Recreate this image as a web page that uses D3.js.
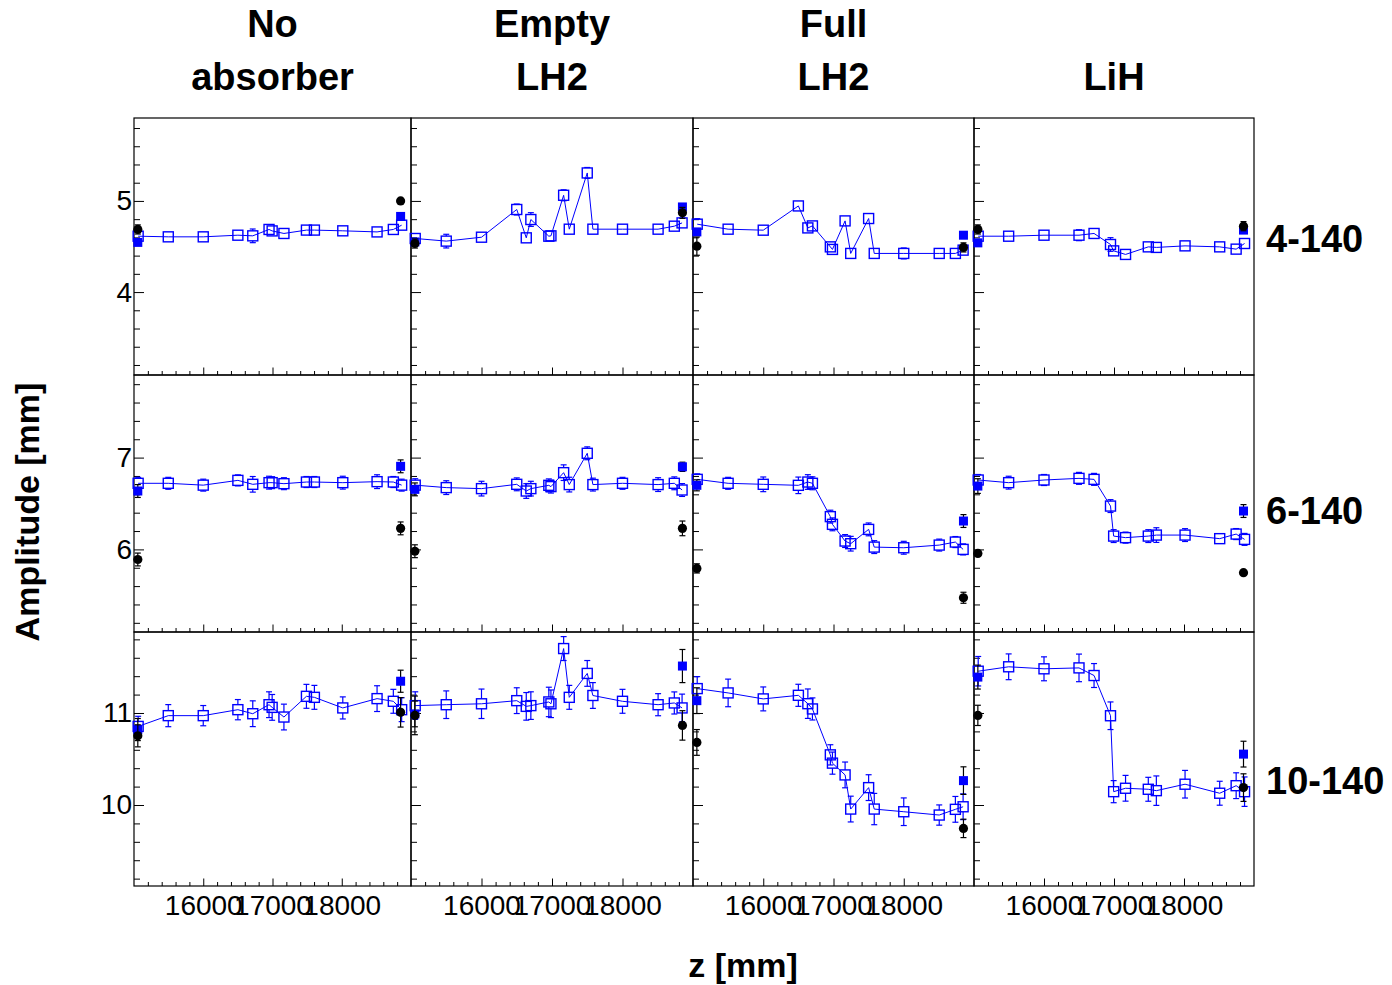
<!DOCTYPE html>
<html><head><meta charset="utf-8">
<script src="https://cdn.jsdelivr.net/npm/d3@7"></script>
<style>
body{margin:0;background:#fff;}
text{font-family:"Liberation Sans",Arial,Helvetica,sans-serif;}
</style>
</head><body>
<svg id="chart" width="1392" height="985"></svg>
<script>
// ---------------- data ----------------
const columnTitles = [["No","absorber"],["Empty","LH2"],["Full","LH2"],["LiH"]];
const rowLabels = ["4-140","6-140","10-140"];
const xTickValues = [16000,17000,18000];
const xRange = [15000,19000];
const yRanges = [[3.09,5.91],[5.1,7.9],[9.12,11.88]];
const yTickValues = [[4,5],[6,7],[10,11]];

const zNoAbs = [15060,15495,16000,16500,16715,16950,16995,17165,17490,17605,18015,18510,18745,18865];
const zLH2   = [15060,15500,16000,16500,16635,16700,16955,16985,17165,17245,17500,17580,18000,18505,18735,18845];
const zEdge  = [15055,18850];

// row 1 (4-140)
const r1NoAbsorber = [4.613,4.606,4.606,4.624,4.617,4.687,4.671,4.643,4.68,4.68,4.672,4.66,4.687,4.734];
const r1EmptyLH2   = [4.588,4.559,4.602,4.906,4.595,4.796,4.613,4.617,5.062,4.69,5.307,4.69,4.69,4.69,4.723,4.759];
const r1FullLH2    = [4.745,4.69,4.679,4.945,4.704,4.726,4.496,4.468,4.781,4.424,4.807,4.424,4.424,4.424,4.424,4.46];
const r1LiH        = [4.613,4.613,4.624,4.624,4.643,4.522,4.452,4.413,4.496,4.49,4.507,4.496,4.471,4.533];
const e1NoAbsorber = [0.04,0.04,0.04,0.05,0.075,0.05,0.05,0.05,0.04,0.04,0.05,0.04,0.05,0.05];
const e1EmptyLH2   = [0.05,0.075,0.05,0.06,0.05,0.075,0.05,0.05,0.06,0.05,0.06,0.04,0.04,0.04,0.05,0.05];
const e1FullLH2    = [0.06,0.05,0.04,0.05,0.05,0.05,0.05,0.05,0.05,0.05,0.05,0.05,0.06,0.04,0.04,0.05];
const e1LiH        = [0.05,0.05,0.05,0.06,0.05,0.075,0.05,0.05,0.05,0.05,0.05,0.05,0.05,0.05];
const sqEdgeR1      = [[4.545,4.83],[4.55,4.934],[4.66,4.624],[4.54,4.68]];
const sqEdgeErrR1   = [[0.03,0.03],[0.03,0.03],[0.03,0.03],[0.03,0.03]];
const circEdgeR1    = [[4.687,5.0],[4.533,4.869],[4.504,4.49],[4.687,4.723]];
const circEdgeErrR1 = [[0.05,0.03],[0.05,0.06],[0.1,0.05],[0.05,0.05]];

// row 2 (6-140)
const r2NoAbsorber = [6.72,6.72,6.70,6.752,6.709,6.727,6.727,6.716,6.734,6.734,6.727,6.738,6.734,6.70];
const r2EmptyLH2   = [6.70,6.673,6.662,6.709,6.636,6.662,6.698,6.684,6.836,6.706,7.047,6.706,6.72,6.706,6.72,6.647];
const r2FullLH2    = [6.763,6.72,6.709,6.698,6.734,6.72,6.357,6.273,6.091,6.062,6.218,6.025,6.018,6.047,6.08,6.0];
const r2LiH        = [6.756,6.727,6.756,6.774,6.763,6.472,6.145,6.128,6.145,6.156,6.156,6.117,6.167,6.109];
const e2NoAbsorber = [0.065,0.065,0.065,0.06,0.085,0.07,0.065,0.065,0.06,0.06,0.07,0.075,0.06,0.065];
const e2EmptyLH2   = [0.07,0.075,0.08,0.07,0.08,0.08,0.07,0.07,0.085,0.08,0.07,0.07,0.065,0.075,0.07,0.07];
const e2FullLH2    = [0.06,0.065,0.08,0.09,0.08,0.07,0.07,0.07,0.07,0.08,0.07,0.07,0.07,0.065,0.06,0.06];
const e2LiH        = [0.06,0.07,0.06,0.065,0.065,0.07,0.07,0.06,0.07,0.08,0.07,0.05,0.06,0.065];
const sqEdgeR2      = [[6.636,6.905],[6.654,6.90],[6.698,6.309],[6.69,6.418]];
const sqEdgeErrR2   = [[0.07,0.07],[0.07,0.05],[0.06,0.07],[0.08,0.07]];
const circEdgeR2    = [[5.89,6.229],[5.98,6.229],[5.793,5.473],[5.956,5.746]];
const circEdgeErrR2 = [[0.07,0.07],[0.07,0.08],[0.05,0.06],[0.04,0.04]];

// row 3 (10-140)
const r3NoAbsorber = [10.854,10.971,10.971,11.036,10.992,11.09,11.061,10.956,11.181,11.17,11.055,11.156,11.127,11.036];
const r3EmptyLH2   = [11.08,11.09,11.10,11.134,11.072,11.08,11.12,11.10,11.70,11.17,11.43,11.19,11.127,11.09,11.109,11.055];
const r3FullLH2    = [11.265,11.218,11.153,11.192,11.101,11.044,10.545,10.455,10.327,9.956,10.189,9.956,9.927,9.891,9.953,9.981];
const r3LiH        = [11.454,11.502,11.48,11.49,11.407,10.97,10.145,10.182,10.171,10.156,10.226,10.128,10.21,10.145];
const e3NoAbsorber = [0.11,0.12,0.11,0.11,0.14,0.14,0.14,0.14,0.13,0.13,0.12,0.14,0.13,0.13];
const e3EmptyLH2   = [0.15,0.15,0.16,0.14,0.15,0.15,0.16,0.15,0.13,0.13,0.14,0.14,0.13,0.12,0.12,0.15];
const e3FullLH2    = [0.13,0.15,0.13,0.12,0.16,0.12,0.11,0.12,0.14,0.14,0.14,0.17,0.15,0.11,0.14,0.14];
const e3LiH        = [0.16,0.14,0.13,0.15,0.13,0.15,0.12,0.14,0.13,0.16,0.15,0.13,0.14,0.16];
const sqEdgeR3      = [[10.82,11.345],[10.99,11.51],[11.134,10.265],[11.39,10.553]];
const sqEdgeErrR3   = [[0.12,0.12],[0.14,0.18],[0.14,0.15],[0.13,0.14]];
const circEdgeR3    = [[10.752,11.007],[10.974,10.865],[10.68,9.746],[10.974,10.189]];
const circEdgeErrR3 = [[0.12,0.16],[0.21,0.16],[0.14,0.1],[0.11,0.15]];

// ---------------- assembly ----------------
const colZ = [zNoAbs, zLH2, zLH2, zNoAbs];
const rowsData = [
  {vals:[r1NoAbsorber,r1EmptyLH2,r1FullLH2,r1LiH], errs:[e1NoAbsorber,e1EmptyLH2,e1FullLH2,e1LiH],
   sq:sqEdgeR1, sqE:sqEdgeErrR1, ci:circEdgeR1, ciE:circEdgeErrR1},
  {vals:[r2NoAbsorber,r2EmptyLH2,r2FullLH2,r2LiH], errs:[e2NoAbsorber,e2EmptyLH2,e2FullLH2,e2LiH],
   sq:sqEdgeR2, sqE:sqEdgeErrR2, ci:circEdgeR2, ciE:circEdgeErrR2},
  {vals:[r3NoAbsorber,r3EmptyLH2,r3FullLH2,r3LiH], errs:[e3NoAbsorber,e3EmptyLH2,e3FullLH2,e3LiH],
   sq:sqEdgeR3, sqE:sqEdgeErrR3, ci:circEdgeR3, ciE:circEdgeErrR3}
];

// ---------------- layout ----------------
const colEdges = [134, 411, 693, 974, 1254];
const rowEdges = [118, 375, 632, 886];
const BLUE = "#0000ff";
const svg = d3.select("#chart");

function errBar(g, x, yc, yTop, yBot, half, color){
  const cap = 3;
  if (yTop < yc - half) {
    g.append("line").attr("x1",x).attr("x2",x).attr("y1",yTop).attr("y2",yc-half).attr("stroke",color).attr("stroke-width",1.2);
    g.append("line").attr("x1",x-cap).attr("x2",x+cap).attr("y1",yTop).attr("y2",yTop).attr("stroke",color).attr("stroke-width",1.2);
  }
  if (yBot > yc + half) {
    g.append("line").attr("x1",x).attr("x2",x).attr("y1",yc+half).attr("y2",yBot).attr("stroke",color).attr("stroke-width",1.2);
    g.append("line").attr("x1",x-cap).attr("x2",x+cap).attr("y1",yBot).attr("y2",yBot).attr("stroke",color).attr("stroke-width",1.2);
  }
}

for (let r = 0; r < 3; r++) {
  const y = d3.scaleLinear().domain(yRanges[r]).range([rowEdges[r+1], rowEdges[r]]);
  const rd = rowsData[r];
  for (let c = 0; c < 4; c++) {
    const x = d3.scaleLinear().domain(xRange).range([colEdges[c], colEdges[c+1]]);
    const g = svg.append("g");

    // minor x ticks
    const minorX = d3.range(15200, 19000, 200).filter(v => !xTickValues.includes(v));
    g.append("g").attr("transform",`translate(0,${rowEdges[r+1]})`)
      .call(d3.axisBottom(x).tickValues(minorX).tickSize(-4).tickFormat(""))
      .call(s => s.select(".domain").remove());
    const xa = g.append("g").attr("transform",`translate(0,${rowEdges[r+1]})`)
      .call(d3.axisBottom(x).tickValues(xTickValues).tickSize(-7.5).tickPadding(9)
        .tickFormat(r === 2 ? d3.format("d") : ""))
      .call(s => s.select(".domain").remove());
    xa.selectAll("text").attr("font-size",28).attr("fill","#000")
      .style("font-family",'"Liberation Sans",Arial,sans-serif');

    // y ticks
    const yLo = yRanges[r][0], yHi = yRanges[r][1];
    const minorY = d3.range(Math.ceil(yLo*5)/5, yHi, 0.2).map(v => +v.toFixed(2))
      .filter(v => !yTickValues[r].some(t => Math.abs(t - v) < 1e-6));
    g.append("g").attr("transform",`translate(${colEdges[c]},0)`)
      .call(d3.axisLeft(y).tickValues(minorY).tickSize(-6).tickFormat(""))
      .call(s => s.select(".domain").remove());
    const ya = g.append("g").attr("transform",`translate(${colEdges[c]},0)`)
      .call(d3.axisLeft(y).tickValues(yTickValues[r]).tickSize(-10).tickPadding(2)
        .tickFormat(c === 0 ? d3.format("d") : ""))
      .call(s => s.select(".domain").remove());
    ya.selectAll("text").attr("font-size",28).attr("fill","#000")
      .style("font-family",'"Liberation Sans",Arial,sans-serif');

    // frame
    g.append("rect").attr("x",colEdges[c]).attr("y",rowEdges[r])
      .attr("width",colEdges[c+1]-colEdges[c]).attr("height",rowEdges[r+1]-rowEdges[r])
      .attr("fill","none").attr("stroke","#000").attr("stroke-width",1.2);

    // open-square graph
    const zs = colZ[c], vs = rd.vals[c], es = rd.errs[c];
    const pts = zs.map((z,i) => ({z, v: vs[i], e: es[i]}));
    g.append("path").datum(pts)
      .attr("d", d3.line().x(d => x(d.z)).y(d => y(d.v)))
      .attr("fill","none").attr("stroke",BLUE).attr("stroke-width",1);
    pts.forEach(d => {
      errBar(g, x(d.z), y(d.v), y(d.v + d.e), y(d.v - d.e), 5, BLUE);
    });
    g.selectAll(null).data(pts).enter().append("rect")
      .attr("x", d => x(d.z) - 5).attr("y", d => y(d.v) - 5)
      .attr("width",10).attr("height",10)
      .attr("fill","none").attr("stroke",BLUE).attr("stroke-width",1.4);

    // edge points: filled squares then black circles
    zEdge.forEach((z,i) => {
      const v = rd.sq[c][i], e = rd.sqE[c][i];
      errBar(g, x(z), y(v), y(v+e), y(v-e), 4, "#000");
      g.append("rect").attr("x", x(z)-4.5).attr("y", y(v)-4.5).attr("width",9).attr("height",9).attr("fill",BLUE);
    });
    zEdge.forEach((z,i) => {
      const v = rd.ci[c][i], e = rd.ciE[c][i];
      errBar(g, x(z), y(v), y(v+e), y(v-e), 4, "#000");
      g.append("circle").attr("cx", x(z)).attr("cy", y(v)).attr("r",4.6).attr("fill","#000");
    });
  }
}

// column titles
columnTitles.forEach((lines, c) => {
  const cx = (colEdges[c] + colEdges[c+1]) / 2;
  const baselines = lines.length === 2 ? [37, 90] : [90];
  lines.forEach((t, i) => {
    svg.append("text").attr("x", cx).attr("y", baselines[i]).attr("text-anchor","middle")
      .attr("font-size",38).attr("font-weight","bold").text(t);
  });
});

// row labels
const rowBaselines = [252, 524, 794];
rowLabels.forEach((t, r) => {
  svg.append("text").attr("x", 1266).attr("y", rowBaselines[r])
    .attr("font-size",38).attr("font-weight","bold").text(t);
});

// axis titles
svg.append("text").attr("x", 743).attr("y", 977).attr("text-anchor","middle")
  .attr("font-size",34).attr("font-weight","bold").text("z [mm]");
svg.append("text").attr("transform","translate(39,512) rotate(-90)").attr("text-anchor","middle")
  .attr("font-size",34).attr("font-weight","bold").text("Amplitude [mm]");
</script>
</body></html>
